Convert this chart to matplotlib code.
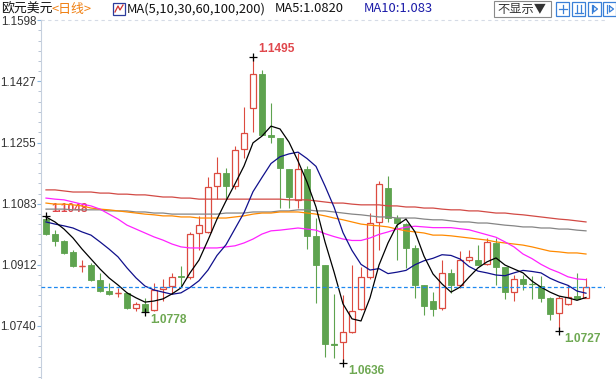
import matplotlib
matplotlib.use("Agg")
import matplotlib.pyplot as plt
import numpy as np
from matplotlib.lines import Line2D
from matplotlib.patches import Rectangle

W, H = 616, 379

# ---- daily EUR/USD candles ----
OPEN = [1.1040, 1.0998, 1.0979, 1.0948, 1.0908, 1.0911, 1.0869, 1.0838, 1.0833, 1.0833,
        1.0790, 1.0802, 1.0785, 1.0844, 1.0852, 1.0880, 1.0877, 1.1001, 1.1004, 1.1133,
        1.1169, 1.1133, 1.1237, 1.1352, 1.1447, 1.1276, 1.1268, 1.1181, 1.1094, 1.1181,
        1.0993, 1.0911, 1.0688, 1.0695, 1.0723, 1.0788, 1.0877, 1.1032, 1.1127, 1.1043,
        1.1026, 1.0959, 1.0855, 1.0810, 1.0790, 1.0889, 1.0855, 1.0925, 1.0925, 1.0914,
        1.0973, 1.0906, 1.0835, 1.0872, 1.0859, 1.0852, 1.0819, 1.0776, 1.0802, 1.0824,
        1.0819]
HIGH = [1.1048, 1.1009, 1.0981, 1.0953, 1.0925, 1.0917, 1.0889, 1.0861, 1.0847, 1.0835,
        1.0807, 1.0819, 1.0861, 1.0872, 1.0889, 1.0908, 1.1004, 1.1049, 1.1158, 1.1214,
        1.1183, 1.1245, 1.1355, 1.1495, 1.1459, 1.1366, 1.1268, 1.1181, 1.1226, 1.1189,
        1.1043, 1.0911, 1.0830, 1.0827, 1.0911, 1.0906, 1.1057, 1.1147, 1.1161, 1.1051,
        1.1029, 1.0967, 1.0855, 1.0835, 1.0925, 1.0900, 1.0950, 1.0953, 1.0967, 1.0987,
        1.0987, 1.0906, 1.0883, 1.0883, 1.0880, 1.0880, 1.0821, 1.0824, 1.0855, 1.0889,
        1.0875]
LOW = [1.0995, 1.0964, 1.0942, 1.0906, 1.0892, 1.0866, 1.0835, 1.0827, 1.0821, 1.0788,
       1.0782, 1.0778, 1.0782, 1.0810, 1.0830, 1.0849, 1.0872, 1.0953, 1.1001, 1.1096,
       1.1096, 1.1124, 1.1212, 1.1284, 1.1276, 1.1254, 1.1071, 1.1071, 1.1071, 1.0956,
       1.0804, 1.0653, 1.0650, 1.0636, 1.0720, 1.0785, 1.0872, 1.0953, 1.1032, 1.0925,
       1.0903, 1.0819, 1.0771, 1.0768, 1.0785, 1.0833, 1.0847, 1.0920, 1.0911, 1.0911,
       1.0855, 1.0816, 1.0810, 1.0841, 1.0816, 1.0807, 1.0757, 1.0727, 1.0799, 1.0816,
       1.0819]
CLOSE = [1.0998, 1.0979, 1.0945, 1.0908, 1.0908, 1.0869, 1.0838, 1.0830, 1.0833, 1.0790,
         1.0802, 1.0782, 1.0841, 1.0849, 1.0877, 1.0877, 1.0998, 1.1023, 1.1130, 1.1169,
         1.1133, 1.1234, 1.1282, 1.1447, 1.1276, 1.1270, 1.1183, 1.1102, 1.1181, 1.0993,
         1.0911, 1.0689, 1.0687, 1.0723, 1.0782, 1.0877, 1.1029, 1.1139, 1.1043, 1.1029,
         1.0959, 1.0855, 1.0796, 1.0788, 1.0889, 1.0855, 1.0925, 1.0934, 1.0911, 1.0976,
         1.0906, 1.0835, 1.0872, 1.0858, 1.0858, 1.0819, 1.0774, 1.0819, 1.0821, 1.0816,
         1.0849]

# ---- moving averages ----
MA5 = [1.1046, 1.1032, 1.1012, 1.0987, 1.0956, 1.0928, 1.0900, 1.0875, 1.0855, 1.0833,
       1.0819, 1.0807, 1.0810, 1.0816, 1.0830, 1.0847, 1.0889, 1.0925, 1.0981, 1.1040,
       1.1091, 1.1139, 1.1189, 1.1254, 1.1273, 1.1301, 1.1293, 1.1256, 1.1203, 1.1144,
       1.1074, 1.0976, 1.0892, 1.0802, 1.0760, 1.0754, 1.0819, 1.0911, 1.0973, 1.1023,
       1.1040, 1.1004, 1.0936, 1.0886, 1.0858, 1.0835, 1.0849, 1.0877, 1.0903, 1.0920,
       1.0931, 1.0911, 1.0900, 1.0889, 1.0866, 1.0849, 1.0835, 1.0824, 1.0819, 1.0812,
       1.0820]
MA10 = [1.1032, 1.1026, 1.1021, 1.1015, 1.1004, 1.0995, 1.0976, 1.0956, 1.0934, 1.0903,
        1.0875, 1.0852, 1.0841, 1.0835, 1.0829, 1.0833, 1.0848, 1.0867, 1.0897, 1.0938,
        1.0968, 1.1013, 1.1058, 1.1117, 1.1157, 1.1196, 1.1215, 1.1223, 1.1228, 1.1210,
        1.1188, 1.1133, 1.1074, 1.1002, 1.0952, 1.0913, 1.0897, 1.0901, 1.0887, 1.0891,
        1.0896, 1.0912, 1.0923, 1.0930, 1.0940, 1.0938, 1.0928, 1.0907, 1.0894, 1.0889,
        1.0883, 1.0881, 1.0889, 1.0896, 1.0893, 1.0889, 1.0874, 1.0863, 1.0854, 1.0838,
        1.0832]
MA30 = [1.1099, 1.1096, 1.1094, 1.1088, 1.1082, 1.1077, 1.1068, 1.1054, 1.1040, 1.1023,
        1.1012, 1.1001, 1.0990, 1.0981, 1.0970, 1.0962, 1.0959, 1.0959, 1.0959, 1.0959,
        1.0962, 1.0965, 1.0973, 1.0984, 1.0998, 1.1007, 1.1009, 1.1012, 1.1015, 1.1012,
        1.1009, 1.0999, 1.0991, 1.0984, 1.0980, 1.0980, 1.0987, 1.0997, 1.1004, 1.1012,
        1.1017, 1.1020, 1.1018, 1.1016, 1.1016, 1.1016, 1.1013, 1.1010, 1.1003, 1.0996,
        1.0989, 1.0976, 1.0962, 1.0942, 1.0929, 1.0913, 1.0900, 1.0890, 1.0878, 1.0872,
        1.0870]
MA60 = [1.1085, 1.1082, 1.1082, 1.1080, 1.1077, 1.1071, 1.1068, 1.1066, 1.1063, 1.1060,
        1.1057, 1.1054, 1.1052, 1.1049, 1.1049, 1.1046, 1.1046, 1.1043, 1.1043, 1.1043,
        1.1043, 1.1046, 1.1049, 1.1054, 1.1057, 1.1057, 1.1060, 1.1060, 1.1060, 1.1057,
        1.1054, 1.1049, 1.1043, 1.1038, 1.1032, 1.1026, 1.1023, 1.1021, 1.1018, 1.1012,
        1.1007, 1.1004, 1.1001, 1.0995, 1.0995, 1.0993, 1.0990, 1.0987, 1.0984, 1.0981,
        1.0976, 1.0973, 1.0970, 1.0967, 1.0962, 1.0956, 1.0950, 1.0948, 1.0945, 1.0945,
        1.0942]
MA100 = [1.1068, 1.1068, 1.1068, 1.1066, 1.1066, 1.1066, 1.1066, 1.1063, 1.1063, 1.1063,
         1.1060, 1.1060, 1.1057, 1.1057, 1.1054, 1.1054, 1.1054, 1.1054, 1.1054, 1.1054,
         1.1057, 1.1057, 1.1057, 1.1060, 1.1060, 1.1060, 1.1063, 1.1063, 1.1066, 1.1066,
         1.1063, 1.1063, 1.1060, 1.1057, 1.1054, 1.1052, 1.1049, 1.1046, 1.1046, 1.1043,
         1.1043, 1.1043, 1.1040, 1.1038, 1.1038, 1.1035, 1.1032, 1.1032, 1.1029, 1.1029,
         1.1026, 1.1023, 1.1021, 1.1018, 1.1018, 1.1015, 1.1015, 1.1012, 1.1012, 1.1009,
         1.1007]
MA200 = [1.1122, 1.1122, 1.1119, 1.1116, 1.1116, 1.1116, 1.1113, 1.1113, 1.1110, 1.1110,
         1.1108, 1.1108, 1.1105, 1.1102, 1.1102, 1.1099, 1.1099, 1.1096, 1.1096, 1.1096,
         1.1096, 1.1096, 1.1096, 1.1096, 1.1096, 1.1096, 1.1096, 1.1094, 1.1094, 1.1094,
         1.1091, 1.1088, 1.1085, 1.1085, 1.1082, 1.1080, 1.1080, 1.1080, 1.1077, 1.1077,
         1.1074, 1.1074, 1.1071, 1.1071, 1.1068, 1.1066, 1.1066, 1.1063, 1.1063, 1.1060,
         1.1057, 1.1057, 1.1054, 1.1052, 1.1049, 1.1046, 1.1043, 1.1040, 1.1038, 1.1035,
         1.1032]

LAST_PRICE = 1.0849
Y_TICKS = [1.1598, 1.1427, 1.1255, 1.1083, 1.0912, 1.0740]
Y_TICK_LABELS = ["1.1598", "1.1427", "1.1255", "1.1083", "1.0912", "1.0740"]

# marked extremes: (candle index, price, label text, colour, above?)
MARKS = [(23, 1.1495, "1.1495", "#e0474c", True),
         (0, 1.1048, "1.1048", "#e0474c", True),
         (11, 1.0778, "1.0778", "#6ea852", False),
         (33, 1.0636, "1.0636", "#6ea852", False),
         (57, 1.0727, "1.0727", "#6ea852", False)]

RED = "#dc4b40"
GREEN = "#5ea34f"
CJK = ["Noto Sans CJK SC", "DejaVu Sans"]
HEAD_SIZE = 9.3

fig = plt.figure(figsize=(W / 100, H / 100), dpi=100)
fig.patch.set_facecolor("white")
ax = fig.add_axes([41 / W, 0, (605 - 41) / W, (H - 20) / H])

o = np.array(OPEN)
h = np.array(HIGH)
l = np.array(LOW)
c = np.array(CLOSE)
x = np.arange(len(o))
up = c >= o
lo = np.minimum(o, c)
hi = np.maximum(o, c)
bw = 0.72

# wicks
ax.vlines(x[up], hi[up], h[up], color=RED, lw=0.8, zorder=3)
ax.vlines(x[up], l[up], lo[up], color=RED, lw=0.8, zorder=3)
ax.vlines(x[~up], l[~up], h[~up], color=GREEN, lw=0.8, zorder=3)
# bodies
ax.bar(x[up], hi[up] - lo[up], bottom=lo[up], width=bw, facecolor="white",
       edgecolor=RED, linewidth=0.9, zorder=3)
ax.bar(x[~up], hi[~up] - lo[~up], bottom=lo[~up], width=bw, facecolor=GREEN,
       edgecolor=GREEN, linewidth=0.6, zorder=3)
flat = (hi - lo) < 0.00015
ax.hlines(o[flat], x[flat] - bw / 2, x[flat] + bw / 2,
          colors=[RED if u else GREEN for u in up[flat]], lw=0.9, zorder=3)

# moving averages
ma_styles = [(MA200, "#d24a45"), (MA100, "#858585"), (MA60, "#ff8a00"),
             (MA30, "#ff22ff"), (MA10, "#10108c"), (MA5, "#000000")]
for series, col in ma_styles:
    ax.plot(x, series, color=col, lw=0.9, zorder=4)

ax.axhline(LAST_PRICE, color="#1e88f0", lw=0.9, dashes=(3, 2), zorder=5)
ax.axhline(Y_TICKS[0], color="#d5dbe6", lw=0.8, dashes=(3, 3), zorder=1, clip_on=False)

for idx, price, txt, col, above in MARKS:
    ax.plot(idx, price, marker="+", color="black", ms=6, mew=0.9, zorder=6, clip_on=False)
    ax.annotate(txt, xy=(idx, price), xytext=(3.5, 5.5 if above else -5.8),
                textcoords="offset points", ha="left", va="center",
                fontsize=8.6, fontweight="bold", family="Liberation Sans",
                color=col, zorder=3 if idx == 0 else 6)

ax.set_xlim(-5 / 9, -5 / 9 + (605 - 41) / 9)
ax.set_ylim(1.1655 - 0.0002807 * 379, 1.1655 - 0.0002807 * 20)

ax.set_xticks([])
ax.set_yticks(Y_TICKS)
ax.set_yticklabels(Y_TICK_LABELS)
minor = []
for a, b in zip(Y_TICKS[:-1], Y_TICKS[1:]):
    minor += list(np.linspace(a, b, 7)[1:-1])
step = (Y_TICKS[-2] - Y_TICKS[-1]) / 6
minor += [Y_TICKS[-1] - step * k for k in range(1, 6)]
ax.set_yticks(minor, minor=True)
ax.tick_params(axis="y", which="major", length=2.6, width=0.8, color="#8db8e0",
               pad=0.8, labelsize=8.4, labelcolor="#333333")
ax.tick_params(axis="y", which="minor", length=2.2, width=0.7, color="#b8c4d4")
for lab in ax.get_yticklabels():
    lab.set_family("Liberation Sans")
for side in ("top", "right", "bottom"):
    ax.spines[side].set_visible(False)
ax.spines["left"].set_color("#c6d0de")
ax.spines["left"].set_linewidth(0.8)


# ---- header bar ----
def fx(px):
    return px / W


def fy(py):
    return 1 - py / H


fig.text(fx(1), fy(9), "欧元美元", family=CJK, fontsize=HEAD_SIZE, color="#111111", va="center")
fig.text(fx(52), fy(9), "<日线>", family=CJK, fontsize=HEAD_SIZE, color="#f07f10", va="center")
fig.patches.append(Rectangle((fx(113), fy(15)), 12 / W, 12 / H, transform=fig.transFigure,
                             facecolor="white", edgecolor="#2c3c9c", lw=0.9))
fig.lines.append(Line2D([fx(115), fx(118), fx(120), fx(123)],
                        [fy(12), fy(6), fy(10), fy(5)], transform=fig.transFigure,
                        color="#d03030", lw=0.9))
fig.text(fx(127), fy(9), "MA(5,10,30,60,100,200)", family=CJK, fontsize=HEAD_SIZE,
         color="#111111", va="center")
fig.text(fx(275), fy(9), "MA5:1.0820", family=CJK, fontsize=HEAD_SIZE, color="#111111",
         va="center")
fig.text(fx(364), fy(9), "MA10:1.083", family=CJK, fontsize=HEAD_SIZE, color="#1a1aa8",
         va="center")

fig.patches.append(Rectangle((fx(494), fy(17)), 57 / W, 16 / H, transform=fig.transFigure,
                             facecolor="white", edgecolor="#8a8a8a", lw=0.8))
fig.text(fx(522), fy(9), "不显示▼", family=CJK, fontsize=8.8, color="#333333",
         va="center", ha="center")

icon_col = "#3a80d8"
for k, ix in enumerate([556, 572, 588, 603]):
    fig.patches.append(Rectangle((fx(ix), fy(16)), 13 / W, 14 / H, transform=fig.transFigure,
                                 facecolor="white", edgecolor=icon_col, lw=0.9))
    cx, cy = ix + 6.5, 9
    if k == 0:
        segs = [([cx - 4, cx + 4], [cy, cy]), ([cx, cx], [cy - 4, cy + 4])]
    elif k == 1:
        segs = [([cx - 4, cx + 4], [cy + 4, cy + 4]), ([cx - 2, cx - 2], [cy - 4, cy + 4]),
                ([cx + 2, cx + 2], [cy - 4, cy + 4])]
    elif k == 2:
        segs = [([cx - 3, cx - 3], [cy - 4, cy + 4]), ([cx - 1, cx + 3, cx - 1, cx - 1],
                                                       [cy - 3, cy, cy + 3, cy - 3])]
    else:
        segs = [([cx - 3, cx - 3], [cy - 4, cy + 4]), ([cx, cx + 4, cx, cx],
                                                       [cy - 3, cy, cy + 3, cy - 3])]
    for sx, sy in segs:
        fig.lines.append(Line2D([fx(v) for v in sx], [fy(v) for v in sy],
                                transform=fig.transFigure, color=icon_col, lw=0.9))

fig.savefig("out.png", dpi=100)
